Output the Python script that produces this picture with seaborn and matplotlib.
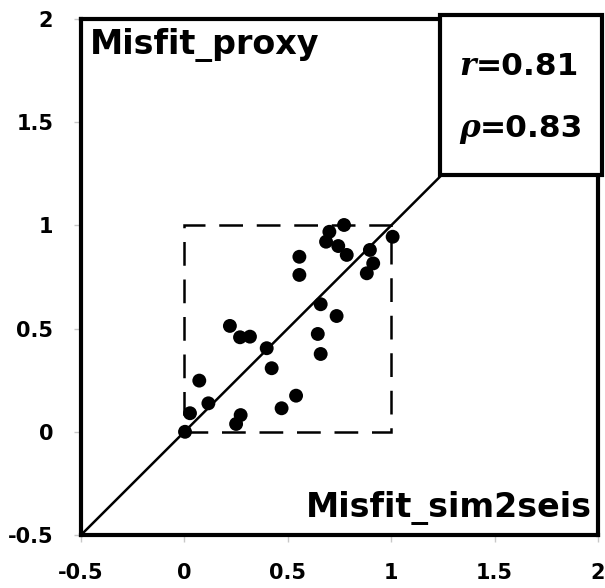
import matplotlib
matplotlib.use("Agg")
import matplotlib.pyplot as plt
from matplotlib.patches import Rectangle
import seaborn as sns
import pandas as pd

# ---- data ----
misfit_sim2seis = [0.701, 0.772, 0.685, 0.744, 0.785, 0.897, 0.913, 0.882, 1.007,
                   0.220, 0.269, 0.317, 0.398, 0.422, 0.072, 0.116, 0.027, 0.003,
                   0.272, 0.250, 0.470, 0.556, 0.556, 0.659, 0.736, 0.645, 0.659, 0.540]
misfit_proxy = [0.969, 1.002, 0.921, 0.900, 0.857, 0.881, 0.816, 0.768, 0.945,
                0.513, 0.458, 0.461, 0.405, 0.308, 0.248, 0.138, 0.090, 0.000,
                0.081, 0.038, 0.114, 0.848, 0.760, 0.618, 0.561, 0.474, 0.377, 0.175]
identity_line = [-0.5, 2.0]
ticks = [-0.5, 0, 0.5, 1, 1.5, 2]
tick_labels = ["-0.5", "0", "0.5", "1", "1.5", "2"]
r_value = "0.81"
rho_value = "0.83"

df = pd.DataFrame({"sim2seis": misfit_sim2seis, "proxy": misfit_proxy})
line_df = pd.DataFrame({"x": identity_line, "y": identity_line})

sns.set_theme(style="white")
plt.rcParams["font.family"] = ["DejaVu Sans"]
plt.rcParams["text.color"] = "black"
plt.rcParams["xtick.labelcolor"] = "black"
plt.rcParams["ytick.labelcolor"] = "black"

fig = plt.figure(figsize=(6.05, 5.88), dpi=100)
ax = fig.add_axes([81 / 605, 1 - 535 / 588, 517 / 605, 516 / 588])

sns.lineplot(data=line_df, x="x", y="y", ax=ax, color="black", linewidth=1.8, zorder=2)
ax.add_patch(Rectangle((0, 0), 1, 1, fill=False, edgecolor="black", linewidth=1.8,
                       linestyle=(0, (9.5, 5.5)), zorder=1))
sns.scatterplot(data=df, x="sim2seis", y="proxy", ax=ax, color="black", s=100,
                edgecolor="none", zorder=3)

ax.set_xlim(-0.5, 2)
ax.set_ylim(-0.5, 2)
ax.set_xticks(ticks)
ax.set_yticks(ticks)
ax.set_xticklabels(tick_labels, fontweight="bold", fontsize=15, color="black")
ax.set_yticklabels(tick_labels, fontweight="bold", fontsize=15, color="black")
ax.tick_params(axis="both", which="both", direction="out", length=5, width=1,
               color="#c8c8c8", bottom=True, left=True)
ax.tick_params(axis="x", pad=15)
ax.tick_params(axis="y", pad=15)
ax.set_xlabel("")
ax.set_ylabel("")
for sp in ax.spines.values():
    sp.set_linewidth(3)
    sp.set_color("black")

# statistics box
box = Rectangle((1.236, 1.244), 0.783, 0.775, facecolor="white", edgecolor="black",
                linewidth=3, clip_on=False, zorder=5)
ax.add_patch(box)
ax.text(1.41, 1.729, "r", fontfamily="DejaVu Serif", fontstyle="italic",
        fontweight="bold", fontsize=22.5, ha="right", va="baseline", zorder=6)
ax.text(1.41, 1.729, "=" + r_value, fontweight="bold", fontsize=22.5,
        ha="left", va="baseline", zorder=6)
ax.text(1.43, 1.428, "ρ", fontfamily="DejaVu Serif", fontstyle="italic",
        fontweight="bold", fontsize=22.5, ha="right", va="baseline", zorder=6)
ax.text(1.43, 1.428, "=" + rho_value, fontweight="bold", fontsize=22.5,
        ha="left", va="baseline", zorder=6)

ax.text(-0.456, 1.830, "Misfit_proxy", fontweight="bold",
        fontsize=24, ha="left", va="baseline", zorder=6)
ax.text(1.971, -0.411, "Misfit_sim2seis", fontweight="bold",
        fontsize=24, ha="right", va="baseline", zorder=6)

fig.savefig("out.png", dpi=100)
